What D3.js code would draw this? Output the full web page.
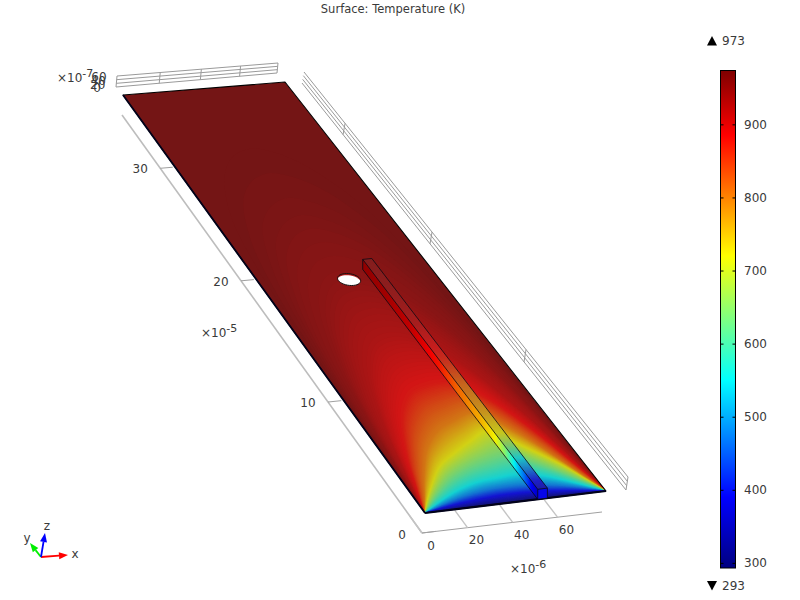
<!DOCTYPE html>
<html><head><meta charset="utf-8">
<script src="https://cdn.jsdelivr.net/npm/d3@7/dist/d3.min.js"></script>
<style>html,body{margin:0;padding:0;background:#fff}svg{display:block}text{font-family:"DejaVu Sans",sans-serif;font-size:12px;fill:#3a3a3a}</style>
</head><body><svg id="c" width="800" height="600"></svg>
<script>
// ---------- data ----------
const xTicks = [0, 20, 40, 60];            // µm
const yTicks = [0, 100, 200, 300];         // µm
const yTickLabels = ["0", "10", "20", "30"];
const zTicks = [0, 20, 40, 60];            // 1e-7 m
const colorTicks = [300, 400, 500, 600, 700, 800, 900];
const tMin = 293, tMax = 973;
const colorStops = [293, 390, 550, 720, 885, 973];
const colorValues = ["#000080", "#0000ff", "#00ffff", "#ffff00", "#ff0000", "#800000"];
// temperature contours on the plate: distance from the cold edge (µm) at each x station
const fieldX = [0, 2, 5, 10, 20, 30, 40, 50, 60, 70, 75, 78, 80];
const fieldLevels = [293, 310, 340, 390, 470, 550, 630, 720, 800, 880, 920, 950, 965, 973];
const c293 = [0, 0, 0, 0, 0, 0, 0, 0, 0, 0, 0, 0, 0];
const c310 = [0, .1, .3, .6, 1.1, 1.4, 1.5, 1.4, 1.1, .6, .3, .1, 0];
const c340 = [0, .2, .6, 1.1, 2.1, 2.8, 3, 2.8, 2.1, 1.1, .6, .2, 0];
const c390 = [0, .5, 1.2, 2.3, 4.2, 5.5, 6, 5.5, 4.2, 2.3, 1.2, .5, 0];
const c470 = [0, .9, 2.1, 4.2, 7.8, 10.2, 11, 10.4, 8.2, 4.6, 2.3, 1, 0];
const c550 = [0, 1.4, 3.5, 6.9, 12.7, 16.6, 18, 19, 15, 8, 4, 1.6, 0];
const c630 = [0, 2.4, 5.9, 11.5, 21, 27, 31, 33, 25, 13.5, 7, 2.8, 0];
const c720 = [0, 3.6, 9, 17, 31, 39, 46, 52, 38, 22, 11, 4.5, 0];
const c800 = [0, 4.9, 12, 24, 44, 56, 62, 66, 52, 28, 14, 5.8, 0];
const c880 = [0, 9, 22, 42, 70, 85, 90, 90, 76, 46, 24, 10, 0];
const c920 = [0, 16, 38, 68, 106, 125, 130, 125, 106, 68, 38, 16, 0];
const c950 = [0, 36, 77, 117, 157, 175, 180, 175, 157, 117, 77, 36, 0];
const c965 = [0, 85, 138, 180, 219, 234, 240, 234, 219, 180, 138, 85, 0];
const c973 = [0, 150, 215, 250, 280, 295, 300, 295, 280, 250, 215, 150, 0];
const fieldTable = [c293, c310, c340, c390, c470, c550, c630, c720, c800, c880, c920, c950, c965, c973];
// beam temperature along its length
const rodY = [0, 7, 14, 23, 32, 42, 58, 78, 100, 130, 160, 183];
const rodT = [350, 400, 470, 550, 640, 720, 770, 810, 870, 920, 945, 955];
const rodXRange = [49.5, 53.8], rodLength = 183, rodHeight = 60;
const holeCentre = [40.2, 176], holeRadius = 5;
const plateXMax = 80, plateYMax = 350, zMax = 60;

// ---------- projection helpers ----------
function homography(p) {
  const [p0, p1, p2, p3] = p;
  const dx1 = p1[0] - p2[0], dx2 = p3[0] - p2[0], sx = p0[0] - p1[0] + p2[0] - p3[0];
  const dy1 = p1[1] - p2[1], dy2 = p3[1] - p2[1], sy = p0[1] - p1[1] + p2[1] - p3[1];
  const den = dx1 * dy2 - dx2 * dy1;
  const g = (sx * dy2 - dx2 * sy) / den, h = (dx1 * sy - sx * dy1) / den;
  const a = p1[0] - p0[0] + g * p1[0], b = p3[0] - p0[0] + h * p3[0];
  const d = p1[1] - p0[1] + g * p1[1], e = p3[1] - p0[1] + h * p3[1];
  return (u, v) => { const w = g * u + h * v + 1; return [(a * u + b * v + p0[0]) / w, (d * u + e * v + p0[1]) / w]; };
}
const xs = d3.scaleLinear().domain([0, plateXMax]).range([0, 1]);
const ys = d3.scaleLinear().domain([0, plateYMax]).range([0, 1]);
const zs = d3.scaleLinear().domain([0, zMax]).range([0, 1]);
const plateH = homography([[425, 513], [606, 491], [285, 82], [123, 95]]);
const floorH = homography([[422, 533], [602, 512], [284, 102], [122, 115]]);
const backH = homography([[116, 87], [277, 73], [278, 63], [117, 76]]);
const rightH = homography([[626, 490], [302, 83], [304, 72], [628, 477]]);
const zPx = d3.scaleLinear().domain([0, zMax]).range([0, 10]);
const P = (x, y, z = 0) => { const q = plateH(xs(x), ys(y)); return [q[0], q[1] - zPx(z)]; };
const F = (x, y) => floorH(xs(x), ys(y));

const colour = d3.scaleLinear().domain(colorStops).range(colorValues).interpolate(d3.interpolateRgb);
const shade = (t, k, amb) => { const c = d3.rgb(colour(t)); return d3.rgb(c.r * k + amb, c.g * k + amb, c.b * k + amb).formatHex(); };
const lit = t => shade(t, 0.74, 21);

const svg = d3.select("#c");
const defs = svg.append("defs");
const polyLine = d3.line();
const closed = pts => polyLine(pts) + "Z";

// ---------- box grid ----------
const grid = svg.append("g").attr("fill", "none").attr("stroke", "#9a9a9a").attr("stroke-width", 1);
zTicks.forEach(z => {
  grid.append("path").attr("d", polyLine([backH(0, zs(z)), backH(1, zs(z))]));
  grid.append("path").attr("d", polyLine([rightH(0, zs(z)), rightH(1, zs(z))]));
});
[0, 20, 40, 60, 80].forEach(x => grid.append("path").attr("d", polyLine([backH(xs(x), 0), backH(xs(x), 1)])));
[0, 100, 200, 300].forEach(y => grid.append("path").attr("d", polyLine([rightH(ys(y), 0), rightH(ys(y), 1)])));
// floor axes
const ax = svg.append("g").attr("fill", "none");
ax.append("path").attr("d", polyLine([F(0, 0), F(plateXMax, 0)])).attr("stroke", "#a0a0a0");
ax.append("path").attr("d", polyLine([F(0, 0), F(0, plateYMax)])).attr("stroke", "#bdbdbd").attr("stroke-width", 1.6);
xTicks.forEach(x => ax.append("path").attr("d", polyLine([F(x, 0), F(x, 13)])).attr("stroke", "#c4c4c4").attr("stroke-width", 1.4));
yTicks.forEach(y => ax.append("path").attr("d", polyLine([F(0, y), F(6, y)])).attr("stroke", "#a0a0a0"));

// ---------- plate ----------
const plateCorners = [P(0, 0), P(plateXMax, 0), P(plateXMax, plateYMax), P(0, plateYMax)];
defs.append("clipPath").attr("id", "plateClip").append("path").attr("d", closed(plateCorners));
const pg = svg.append("g").attr("clip-path", "url(#plateClip)");
pg.append("path").attr("d", closed(plateCorners)).attr("fill", lit(tMax));
const colScales = fieldX.map((_, i) => d3.scaleLinear().domain(fieldLevels).range(fieldTable.map(r => r[i])));
const curve = d3.line().curve(d3.curveCatmullRom.alpha(0.5));
d3.range(tMax - 1, tMin - 1, -3).forEach(t => {
  const pts = fieldX.map((x, i) => P(x, colScales[i](t)));
  pg.append("path").attr("d", curve(pts) + "Z").attr("fill", lit(t));
});
svg.append("path").attr("d", closed(plateCorners)).attr("fill", "none").attr("stroke", "#000").attr("stroke-width", 1.1).attr("stroke-linejoin", "round");
svg.append("path").attr("d", polyLine([P(0, plateYMax), P(0, 0)])).attr("fill", "none").attr("stroke", "#02021a").attr("stroke-width", 1.8);
svg.append("path").attr("d", polyLine([P(0, 0), P(plateXMax, 0)])).attr("fill", "none").attr("stroke", "#02021a").attr("stroke-width", 2.2);

// ---------- hole ----------
const holePts = d3.range(0, 360, 10).map(a => P(holeCentre[0] + holeRadius * Math.cos(a * Math.PI / 180), holeCentre[1] + holeRadius * Math.sin(a * Math.PI / 180)));
defs.append("clipPath").attr("id", "holeClip").append("path").attr("d", closed(holePts));
svg.append("path").attr("d", closed(holePts)).attr("fill", "#b51a1a");
svg.append("g").attr("clip-path", "url(#holeClip)").append("path").attr("d", closed(holePts)).attr("fill", "#fff").attr("transform", "translate(0,1.6)");
svg.append("path").attr("d", closed(holePts)).attr("fill", "none").attr("stroke", "#111").attr("stroke-width", 1);

// ---------- beam ----------
const [rx0, rx1] = rodXRange;
const rodScale = d3.scaleLinear().domain(rodY).range(rodT);
const rodG = svg.append("g");
d3.range(0, rodLength, 1).forEach(y => {
  const t = rodScale(y + .5), e = Math.min(y + 1.6, rodLength);
  rodG.append("path").attr("d", closed([P(rx0, y), P(rx0, e), P(rx0, e, rodHeight), P(rx0, y, rodHeight)])).attr("fill", shade(t, 0.95, 0));
  rodG.append("path").attr("d", closed([P(rx0, y, rodHeight), P(rx0, e, rodHeight), P(rx1, e, rodHeight), P(rx1, y, rodHeight)])).attr("fill", shade(t, 0.66, 30));
});
rodG.append("path").attr("d", closed([P(rx0, 0), P(rx1, 0), P(rx1, 0, rodHeight), P(rx0, 0, rodHeight)])).attr("fill", "#0606e8");
const rodEdges = [[P(rx0, 0), P(rx0, rodLength)], [P(rx0, 0, rodHeight), P(rx0, rodLength, rodHeight)], [P(rx1, 0, rodHeight), P(rx1, rodLength, rodHeight)],
  [P(rx0, rodLength, rodHeight), P(rx1, rodLength, rodHeight)], [P(rx0, rodLength), P(rx0, rodLength, rodHeight)],
  [P(rx0, 0), P(rx0, 0, rodHeight)], [P(rx1, 0), P(rx1, 0, rodHeight)], [P(rx0, 0, rodHeight), P(rx1, 0, rodHeight)], [P(rx0, 0), P(rx1, 0)]];
rodEdges.forEach(s => rodG.append("path").attr("d", polyLine(s)).attr("fill", "none").attr("stroke", "#0a0a14").attr("stroke-width", .8));

// ---------- text ----------
const label = (x, y, s, a = "middle") => svg.append("text").attr("x", x).attr("y", y).attr("dy", ".35em").attr("text-anchor", a).text(s);
label(393, 9, "Surface: Temperature (K)").style("font-size", "11.5px");
xTicks.forEach(x => { const q = F(x, 0); label(q[0] + 9, q[1] + 12.5, String(x)); });
yTicks.forEach((y, i) => { const q = F(0, y); label(q[0] - 20, q[1] + (y ? 0.5 : 2), yTickLabels[i]); });
const multiplier = (x, y, e) => {
  const t = svg.append("text").attr("x", x).attr("y", y).attr("dy", ".35em");
  t.append("tspan").text("×10");
  t.append("tspan").attr("dy", "-.45em").style("font-size", "11px").text(e);
};
multiplier(201, 333, "-5");
multiplier(510, 569, "-6");
multiplier(57, 78, "-7");
const zLabelY = d3.scaleLinear().domain([0, 60]).range([88, 77]);
const zLabelX = d3.scaleLinear().domain([0, 60]).range([97, 99]);
zTicks.forEach(z => label(zLabelX(z), zLabelY(z), String(z)));

// ---------- triad ----------
const triadOrigin = [41, 557];
const triadNames = ["x", "y", "z"];
const triadColours = ["#ff0000", "#00ee00", "#0000ff"];
const triadDx = [27, -11, 4];
const triadDy = [-2, -14, -24];
const triadLabelDx = [34, -14, 6];
const triadLabelDy = [-3, -19, -31];
triadNames.forEach((n, i) => {
  const x1 = triadOrigin[0] + triadDx[i], y1 = triadOrigin[1] + triadDy[i];
  const len = Math.hypot(triadDx[i], triadDy[i]), ux = triadDx[i] / len, uy = triadDy[i] / len;
  const bx = x1 - ux * 9, by = y1 - uy * 9;
  svg.append("path").attr("d", polyLine([triadOrigin, [bx, by]])).attr("stroke", triadColours[i]).attr("stroke-width", 1.8).attr("fill", "none");
  svg.append("path").attr("d", closed([[x1, y1], [bx - uy * 3.5, by + ux * 3.5], [bx + uy * 3.5, by - ux * 3.5]])).attr("fill", triadColours[i]);
  label(triadOrigin[0] + triadLabelDx[i], triadOrigin[1] + triadLabelDy[i], n);
});

// ---------- colour bar ----------
const barY = d3.scaleLinear().domain([tMin, tMax]).range([568, 71]);
const grad = defs.append("linearGradient").attr("id", "bar").attr("x1", 0).attr("x2", 0).attr("y1", 1).attr("y2", 0);
colorStops.forEach((s, i) => grad.append("stop").attr("offset", (s - tMin) / (tMax - tMin)).attr("stop-color", colorValues[i]));
svg.append("rect").attr("x", 720.5).attr("y", 71).attr("width", 15).attr("height", 497).attr("fill", "url(#bar)");
const rightAxis = d3.axisRight(barY).tickValues(colorTicks).tickSizeInner(-3).tickSizeOuter(0).tickPadding(11);
const ga = svg.append("g").attr("transform", "translate(735.5,0)").call(rightAxis);
ga.select(".domain").remove();
ga.selectAll("text").attr("text-anchor", "start").attr("x", 8.5).style("font-family", '"DejaVu Sans"').style("font-size", "12px");
ga.selectAll("line").attr("stroke", "#000");
const leftAxis = d3.axisLeft(barY).tickValues(colorTicks).tickSizeInner(-3).tickSizeOuter(0).tickFormat("");
const gb = svg.append("g").attr("transform", "translate(720.5,0)").call(leftAxis);
gb.select(".domain").remove();
gb.selectAll("line").attr("stroke", "#000");
svg.append("rect").attr("x", 720.5).attr("y", 70.5).attr("width", 15).attr("height", 497.5).attr("fill", "none").attr("stroke", "#000");
svg.append("path").attr("d", closed([[712, 36], [707, 45.5], [717, 45.5]])).attr("fill", "#000");
svg.append("path").attr("d", closed([[712, 590.5], [707, 581], [717, 581]])).attr("fill", "#000");
label(722, 41, String(tMax), "start");
label(722, 586, String(tMin), "start");
</script></body></html>
